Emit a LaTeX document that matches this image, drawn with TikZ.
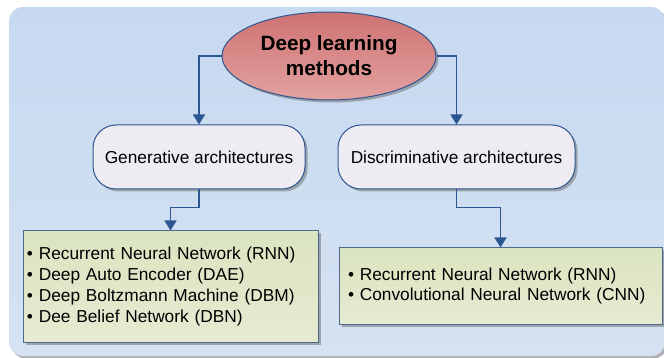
\documentclass[tikz,border=0pt]{standalone}
\usepackage{fontspec}
\setmainfont{Liberation Sans}
\usetikzlibrary{arrows.meta, positioning, shapes.geometric, shadows}

\definecolor{bgtop}{RGB}{198,217,240}
\definecolor{bgbot}{RGB}{213,226,242}
\definecolor{rootA}{RGB}{206,114,114}
\definecolor{rootB}{RGB}{226,162,160}
\definecolor{archfill}{RGB}{238,235,243}
\definecolor{listA}{RGB}{219,228,192}
\definecolor{listB}{RGB}{230,235,209}
\definecolor{edgeblue}{RGB}{44,86,145}
\definecolor{listedge}{RGB}{74,104,138}

\begin{document}
\begin{tikzpicture}[
    x=1pt, y=-1pt,
    shade/.style={drop shadow={shadow xshift=2.5pt, shadow yshift=-2.5pt,
                  fill=black!55, opacity=.55}},
    root/.style={ellipse, draw=edgeblue, line width=1pt, shade,
                 top color=rootA, bottom color=rootB,
                 minimum width=214pt, minimum height=88pt, align=center,
                 font=\bfseries\fontsize{20.7}{25}\selectfont},
    arch/.style={draw=edgeblue, line width=1pt, fill=archfill, shade,
                 rounded corners=23pt, minimum height=64pt,
                 font=\fontsize{17.3}{20.7}\selectfont},
    list/.style={draw=listedge, line width=1pt, shade,
                 top color=listA, bottom color=listB, align=left,
                 font=\fontsize{17.3}{20.7}\selectfont},
    conn/.style={draw=edgeblue, line width=1.4pt,
                 -{Triangle[length=10pt, width=12pt]}}
  ]
  \useasboundingbox (0,0) rectangle (664,358);
  % backdrop
  \shade[top color=bgtop, bottom color=bgbot, rounded corners=14pt]
    (9,7) rectangle (665,356);

  \node[root] (root) at (329,56) {Deep learning\\methods};
  \node[arch, minimum width=212pt] (gen) at (199,157) {Generative architectures};
  \node[arch, minimum width=237pt] (disc) at (456.5,157) {Discriminative architectures};

  \node[list, minimum height=111pt, text width=287pt, inner xsep=4pt]
    (genlist) at (170.5,286.5)
    {• Recurrent Neural Network (RNN)\\
     • Deep Auto Encoder (DAE)\\
     • Deep Boltzmann Machine (DBM)\\
     • Dee Belief Network (DBN)};
  \node[list, minimum height=76pt, text width=305pt, inner xsep=9pt]
    (disclist) at (500.5,286)
    {• Recurrent Neural Network (RNN)\\
     • Convolutional Neural Network (CNN)};

  \draw[conn] (root.west) -| (gen.north);
  \draw[conn] (root.east) -| (disc.north);
  \draw[conn] (gen.south) -- ++(0,18) -| (genlist.north);
  \draw[conn] (disc.south) -- ++(0,18) -| (disclist.north);
\end{tikzpicture}
\end{document}
